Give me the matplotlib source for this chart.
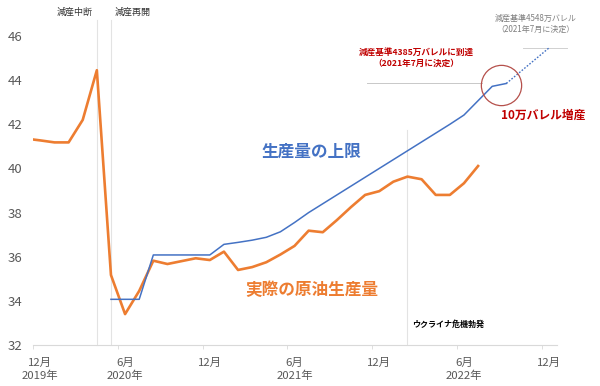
import numpy as np
import pandas as pd
import matplotlib
matplotlib.use("Agg")
import matplotlib.pyplot as plt

plt.rcParams["font.family"] = ["Noto Sans CJK JP", "DejaVu Sans"]
BLUE, ORANGE, DRED, GRAY = "#4472C4", "#ED7D31", "#C00000", "#595959"

# actual crude production (million b/d), Nov 2019 - Jul 2022
actual_start = "2019-11"
actual = [41.35, 41.27, 41.18, 41.18, 42.2, 44.45, 35.17, 33.40, 34.45, 35.82,
          35.67, 35.80, 35.93, 35.85, 36.23, 35.40, 35.53, 35.75, 36.10, 36.49,
          37.18, 37.11, 37.66, 38.25, 38.80, 38.97, 39.40, 39.63, 39.51, 38.80,
          38.80, 39.33, 40.11]
# production ceiling, May 2020 - Sep 2022
ceiling_start = "2020-05"
ceiling = [34.07, 34.07, 34.07, 36.08, 36.08, 36.08, 36.08, 36.08, 36.56, 36.65,
           36.75, 36.88, 37.13, 37.55, 38.0, 38.4, 38.8, 39.2, 39.6, 40.0,
           40.4, 40.8, 41.2, 41.6, 42.0, 42.42, 43.07, 43.72, 43.85]
# planned ceiling (dotted), Sep 2022 -> Dec 2022
plan_months = ["2022-09", "2022-12"]
plan = [43.85, 45.45]
base_4385 = 43.85
base_4548 = 45.45

tick_months = ["2019-12", "2020-06", "2020-12", "2021-06", "2021-12", "2022-06", "2022-12"]
tick_labels = ["12月\n2019年", "6月\n2020年", "12月", "6月\n2021年", "12月", "6月\n2022年", "12月"]
event_months = ["2020-04", "2020-05", "2022-02"]

ORIGIN = pd.Period("2019-12", freq="M")
def midx(p):
    return (pd.Period(p, freq="M") - ORIGIN).n
def series_x(start, n):
    s = midx(start)
    return np.arange(s, s + n)

xa = series_x(actual_start, len(actual))
xc = series_x(ceiling_start, len(ceiling))
xp = [midx(p) for p in plan_months]

fig = plt.figure(figsize=(6, 3.86), dpi=100)
ax = fig.add_axes([0.0555, 0.1062, 0.8724, 0.8005])
ax.set_xlim(-0.5, 36.57)
ax.set_ylim(32, 46)

# event lines
ev = [midx(p) for p in event_months]
ax.plot([ev[0], ev[0]], [32, 46.73], color="#E3E3E3", lw=0.8, clip_on=False, zorder=1)
ax.plot([ev[1], ev[1]], [32, 46.73], color="#E3E3E3", lw=0.8, clip_on=False, zorder=1)
ax.plot([ev[2], ev[2]], [32, 41.74], color="#E3E3E3", lw=0.8, zorder=1)

# baseline reference lines
ax.plot([23.1, 31.3], [base_4385, base_4385], color="#C8C8C8", lw=0.7, zorder=1)
ax.plot([34.2, 37.3], [base_4548, base_4548], color="#D0D0D0", lw=0.7, clip_on=False, zorder=1)

ax.plot(xa, actual, color=ORANGE, lw=1.9, solid_joinstyle="round", zorder=3)
ax.plot(xc, ceiling, color=BLUE, lw=1.1, zorder=4)
ax.plot(xp, plan, color=BLUE, lw=1.0, ls=(0, (1.2, 1.2)), zorder=4)

# circle marking the last step
ax.plot([32.6], [43.78], marker="o", ms=29, mfc="none", mec="#B5504B", mew=0.9, zorder=5)

for s in ["left", "right", "top"]:
    ax.spines[s].set_visible(False)
ax.spines["bottom"].set_color("#D9D9D9")
ax.spines["bottom"].set_linewidth(0.8)

ax.set_yticks(np.arange(32, 47, 2))
ax.tick_params(axis="y", length=0, labelsize=9.5, labelcolor=GRAY, pad=8)
ax.set_xticks([midx(p) for p in tick_months])
ax.set_xticklabels(tick_labels, linespacing=1.4)
ax.tick_params(axis="x", which="major", length=0, labelsize=8.2, labelcolor=GRAY, pad=9)
ax.set_xticks([midx(p) - 0.5 for p in tick_months], minor=True)
ax.tick_params(axis="x", which="minor", length=3, color="#D9D9D9", direction="out")

# annotations
ax.text(2.45, 47.09, "減産中断", ha="center", va="center", fontsize=6.5, color="#333333", clip_on=False)
ax.text(6.56, 47.09, "減産再開", ha="center", va="center", fontsize=6.5, color="#333333", clip_on=False)
ax.text(19.2, 40.74, "生産量の上限", ha="center", va="center", fontsize=12, fontweight="bold", color=BLUE)
ax.text(19.2, 34.49, "実際の原油生産量", ha="center", va="center", fontsize=12, fontweight="bold", color=ORANGE)
ax.text(35.6, 42.42, "10万バレル増産", ha="center", va="center", fontsize=8.5, fontweight="bold",
        color=DRED, clip_on=False)
ax.text(26.6, 45.0, "減産基準4385万バレルに到達\n（2021年7月に決定）", ha="center", va="center",
        fontsize=6.2, fontweight="bold", color=DRED, linespacing=1.3)
ax.text(35.1, 46.54, "減産基準4548万バレル\n（2021年7月に決定）", ha="center", va="center",
        fontsize=5.8, color="#7F7F7F", linespacing=1.3, clip_on=False)
ax.text(28.9, 32.95, "ウクライナ危機勃発", ha="center", va="center", fontsize=5.8,
        fontweight="bold", color="black")

fig.savefig("out.png", dpi=100)
